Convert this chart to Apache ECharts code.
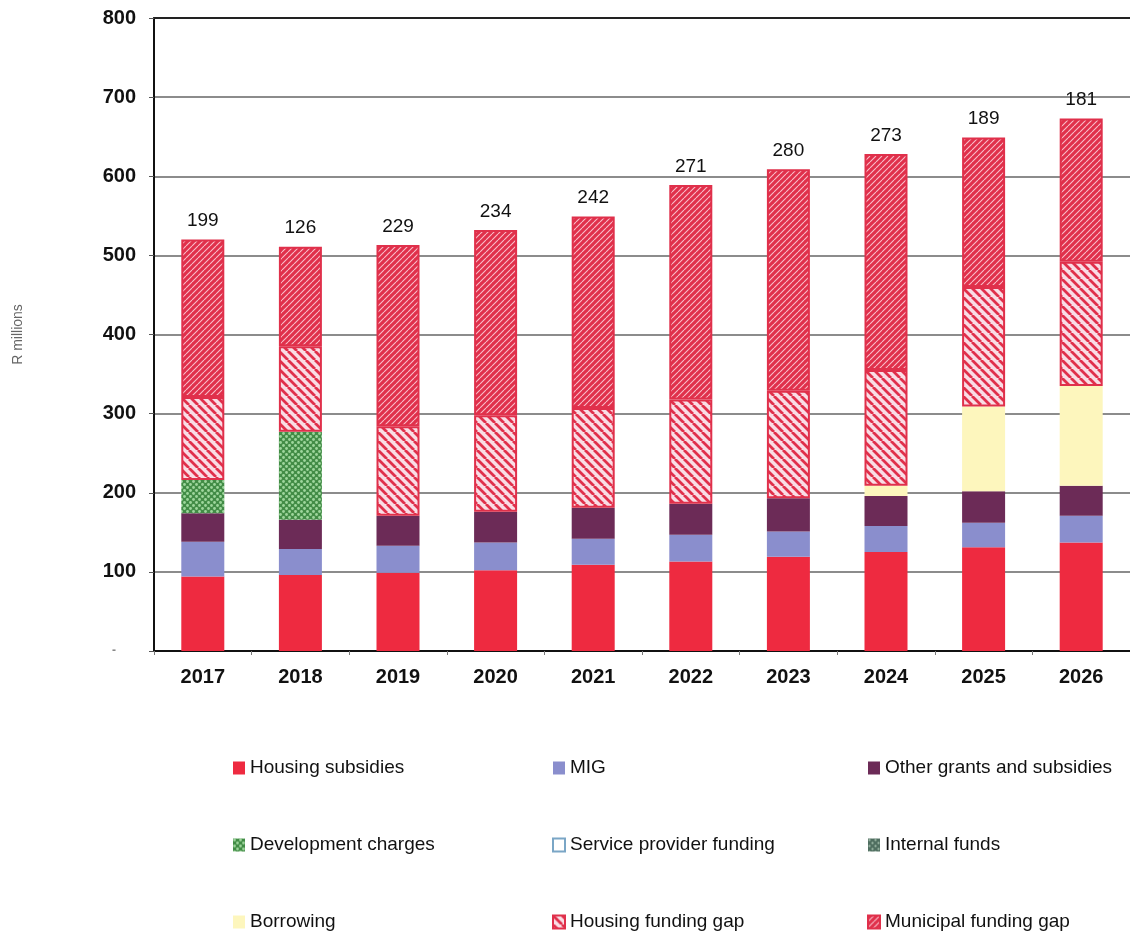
<!DOCTYPE html>
<html>
<head>
<meta charset="utf-8">
<title>Capital funding by source</title>
<script src="https://cdn.jsdelivr.net/npm/echarts@6/dist/echarts.min.js"></script>
<style>
  html, body { margin: 0; padding: 0; background: #ffffff; }
  #chart { width: 1130px; height: 936px; }
</style>
</head>
<body>
<div id="chart"></div>
<script>
// Financial years
const years = ['2017', '2018', '2019', '2020', '2021', '2022', '2023', '2024', '2025', '2026'];

// Funding by source, R millions (stacked bottom to top)
const housingSubsidies      = [94, 96, 99, 102, 109, 113, 119, 125, 131, 137];
const mig                   = [44, 33, 34, 35, 33, 34, 32, 33, 31, 34];
const otherGrants           = [36, 37, 38, 39, 39, 39, 42, 38, 40, 38];
const developmentCharges    = [42, 111, 0, 0, 0, 0, 0, 0, 0, 0];
const serviceProviderFunding= [0, 0, 0, 0, 0, 0, 0, 0, 0, 0];
const internalFunds         = [0, 0, 0, 0, 0, 0, 0, 0, 0, 0];
const borrowing             = [0, 0, 0, 0, 0, 0, 0, 13, 107, 126];
const housingFundingGap     = [105, 108, 113, 122, 126, 132, 136, 146, 151, 157];
const municipalFundingGap   = [199, 126, 229, 234, 242, 271, 280, 273, 189, 181];

// Value axis ticks
const yTicks = [0, 100, 200, 300, 400, 500, 600, 700, 800];

const FONT = "'Liberation Sans', Arial, sans-serif";

// Hatched / dotted fills drawn on small tiles
function hatch(bg, line, width, step, dir) {
  const c = document.createElement('canvas');
  c.width = step; c.height = step;
  const g = c.getContext('2d');
  g.fillStyle = bg; g.fillRect(0, 0, step, step);
  g.strokeStyle = line; g.lineWidth = width;
  g.beginPath();
  for (let k = -1; k <= 1; k++) {
    if (dir > 0) { // rising "/"
      g.moveTo(k * step, step); g.lineTo(k * step + step, 0);
    } else {       // falling "\"
      g.moveTo(k * step, 0); g.lineTo(k * step + step, step);
    }
  }
  g.stroke();
  return { image: c, repeat: 'repeat' };
}
function dots(bg, dot, step, r) {
  const c = document.createElement('canvas');
  c.width = step; c.height = step;
  const g = c.getContext('2d');
  g.fillStyle = bg; g.fillRect(0, 0, step, step);
  g.fillStyle = dot;
  g.beginPath(); g.arc(step * 0.25, step * 0.25, r, 0, Math.PI * 2); g.fill();
  g.beginPath(); g.arc(step * 0.75, step * 0.75, r, 0, Math.PI * 2); g.fill();
  return { image: c, repeat: 'repeat' };
}

const RED = '#ee2a40';
const GAP_RED = '#e0304b';

const fills = {
  housingSubsidies: RED,
  mig: '#8a8ecd',
  otherGrants: '#6c2b57',
  developmentCharges: dots('#428c46', '#9fd69d', 6, 1.4),
  internalFunds: dots('#4f6e60', '#a8c2b0', 6, 1.1),
  borrowing: '#fdf6bd',
  housingFundingGap: hatch('#f9dde5', GAP_RED, 2.8, 9, -1),
  municipalFundingGap: hatch(GAP_RED, 'rgba(255,225,232,0.8)', 1.1, 6, 1)
};

function stackSeries(name, data, color, extra) {
  return Object.assign({
    name: name,
    type: 'bar',
    stack: 'funding',
    barWidth: 43,
    data: data,
    itemStyle: { color: color },
    emphasis: { disabled: true }
  }, extra || {});
}

const series = [
  stackSeries('Housing subsidies', housingSubsidies, fills.housingSubsidies),
  stackSeries('MIG', mig, fills.mig),
  stackSeries('Other grants and subsidies', otherGrants, fills.otherGrants),
  stackSeries('Development charges', developmentCharges, fills.developmentCharges),
  stackSeries('Service provider funding', serviceProviderFunding, '#ffffff'),
  stackSeries('Internal funds', internalFunds, fills.internalFunds),
  stackSeries('Borrowing', borrowing, fills.borrowing),
  stackSeries('Housing funding gap', housingFundingGap, fills.housingFundingGap,
    { itemStyle: { color: fills.housingFundingGap, borderColor: GAP_RED, borderWidth: 2 } }),
  stackSeries('Municipal funding gap', municipalFundingGap, fills.municipalFundingGap, {
    itemStyle: { color: fills.municipalFundingGap, borderColor: GAP_RED, borderWidth: 2 },
    label: {
      show: true,
      position: 'top',
      distance: 9,
      fontFamily: FONT,
      fontSize: 19,
      color: '#111111',
      formatter: p => String(p.value)
    }
  })
];

const legendText = { fontFamily: FONT, fontSize: 19, color: '#111111', lineHeight: 20 };
function legendColumn(left, items) {
  return {
    orient: 'vertical',
    left: left,
    top: 758,
    itemWidth: 12,
    itemHeight: 13,
    itemGap: 57,
    padding: 0,
    selectedMode: false,
    icon: 'rect',
    textStyle: legendText,
    data: items
  };
}

const chart = echarts.init(document.getElementById('chart'), null, { renderer: 'canvas' });
chart.setOption({
  animation: false,
  backgroundColor: '#ffffff',
  grid: { left: 154, top: 18, width: 980, height: 633, containLabel: false },
  legend: [
    legendColumn(233, ['Housing subsidies', 'Development charges', 'Borrowing']),
    legendColumn(552, ['MIG',
      { name: 'Service provider funding', itemStyle: { color: '#ffffff', borderColor: '#7aa6c6', borderWidth: 2 } },
      'Housing funding gap']),
    legendColumn(867, ['Other grants and subsidies', 'Internal funds', 'Municipal funding gap'])
  ],
  xAxis: [{
    type: 'category',
    data: years,
    axisLine: { lineStyle: { color: '#111111', width: 2 } },
    axisTick: { show: true, length: 4, lineStyle: { color: '#777777' } },
    axisLabel: { fontFamily: FONT, fontSize: 20, fontWeight: 'bold', color: '#111111', margin: 16 }
  }, {
    type: 'category',
    position: 'top',
    data: years,
    axisLine: { show: true, lineStyle: { color: '#222222', width: 2 } },
    axisTick: { show: false },
    axisLabel: { show: false }
  }],
  yAxis: {
    type: 'value',
    min: yTicks[0],
    max: yTicks[yTicks.length - 1],
    interval: yTicks[1] - yTicks[0],
    name: 'R millions',
    nameLocation: 'middle',
    nameRotate: 90,
    nameGap: 129,
    nameTextStyle: { fontFamily: FONT, fontSize: 14, color: '#666666' },
    axisLine: { show: true, lineStyle: { color: '#111111', width: 2 } },
    axisTick: { show: true, length: 5, lineStyle: { color: '#555555' } },
    axisLabel: {
      fontFamily: FONT, fontSize: 20, fontWeight: 'bold', color: '#111111', margin: 18,
      formatter: v => (v === 0 ? '{z|-}' : String(v)),
      rich: { z: { fontFamily: FONT, fontSize: 12, color: '#888888', padding: [0, 20, 0, 0] } }
    },
    splitLine: { show: true, lineStyle: { color: '#666666', width: 1.5 } }
  },
  series: series
});
</script>
</body>
</html>
